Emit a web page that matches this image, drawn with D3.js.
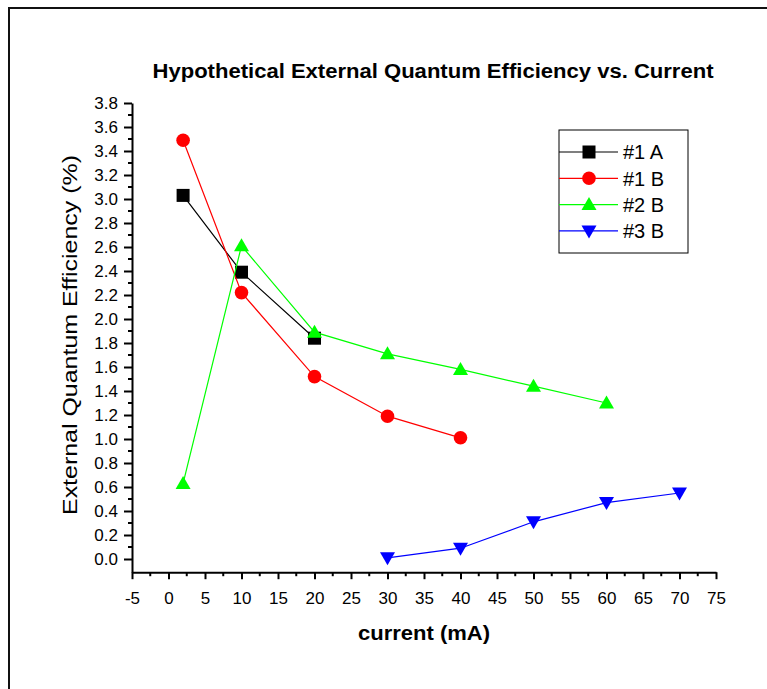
<!DOCTYPE html>
<html>
<head>
<meta charset="utf-8">
<script src="https://cdn.jsdelivr.net/npm/d3@7"></script>
<style>
  html, body { margin: 0; padding: 0; background: #fff; }
  svg { display: block; }
  text { font-family: "Liberation Sans", Arial, sans-serif; fill: #000; }
</style>
</head>
<body>
<svg id="chart" width="767" height="689"></svg>
<script>
// Efficiency measurements (%) at each drive current (mA)
const current1A = [2, 10, 20];
const eqe1A     = [3.03, 2.39, 1.84];
const current1B = [2, 10, 20, 30, 40];
const eqe1B     = [3.49, 2.22, 1.52, 1.19, 1.01];
const current2B = [2, 10, 20, 30, 40, 50, 60];
const eqe2B     = [0.63, 2.61, 1.89, 1.71, 1.58, 1.44, 1.30];
const current3B = [30, 40, 50, 60, 70];
const eqe3B     = [0.01, 0.09, 0.31, 0.47, 0.55];

const seriesNames = ["#1 A", "#1 B", "#2 B", "#3 B"];
const xTicks = d3.range(-5, 76, 5);
const yTicks = d3.range(0, 19 + 1).map(i => i * 0.2);

const series = [
  { name: seriesNames[0], xs: current1A, ys: eqe1A, color: "#000000", symbol: "square" },
  { name: seriesNames[1], xs: current1B, ys: eqe1B, color: "#ff0000", symbol: "circle" },
  { name: seriesNames[2], xs: current2B, ys: eqe2B, color: "#00ff00", symbol: "up" },
  { name: seriesNames[3], xs: current3B, ys: eqe3B, color: "#0000ff", symbol: "down" }
];

const svg = d3.select("#chart");

// outer frame
svg.append("rect")
  .attr("x", 9).attr("y", 8).attr("width", 800).attr("height", 720)
  .attr("fill", "none").attr("stroke", "#111").attr("stroke-width", 2);

const x = d3.scaleLinear().domain([-5, 75]).range([132, 716]);
const y = d3.scaleLinear().domain([-0.11, 3.8]).range([572.2, 103]);

// x axis (plain hyphen for negatives)
const xAxis = svg.append("g").attr("transform", `translate(0,${y.range()[0]})`)
  .call(d3.axisBottom(x).tickValues(xTicks).tickSize(7).tickSizeOuter(0).tickPadding(4)
    .tickFormat(d => String(d)));
xAxis.selectAll("text").attr("font-size", 17).attr("dy", "1.2em");
svg.append("g").attr("transform", `translate(0,${y.range()[0]})`)
  .selectAll("line").data(d3.range(-2.5, 75, 5)).join("line")
  .attr("x1", d => x(d)).attr("x2", d => x(d)).attr("y1", 0).attr("y2", 4)
  .attr("stroke", "#000").attr("stroke-width", 2);

// y axis
const yAxis = svg.append("g").attr("transform", `translate(${x.range()[0]},0)`)
  .call(d3.axisLeft(y).tickValues(yTicks).tickSize(8).tickSizeOuter(0).tickPadding(6)
    .tickFormat(d3.format(".1f")));
yAxis.selectAll("text").attr("font-size", 17);
svg.append("g").attr("transform", `translate(${x.range()[0]},0)`)
  .selectAll("line").data(d3.range(0, 19).map(i => i * 0.2 + 0.1)).join("line")
  .attr("x1", 0).attr("x2", -4).attr("y1", d => y(d)).attr("y2", d => y(d))
  .attr("stroke", "#000").attr("stroke-width", 2);

svg.selectAll(".domain, .tick line").attr("stroke", "#000").attr("stroke-width", 2);

// titles
svg.append("text").attr("x", 433).attr("y", 78).attr("text-anchor", "middle")
  .attr("font-size", 20).attr("font-weight", "bold")
  .attr("textLength", 561).attr("lengthAdjust", "spacingAndGlyphs")
  .text("Hypothetical External Quantum Efficiency vs. Current");

svg.append("text").attr("x", 424).attr("y", 640).attr("text-anchor", "middle")
  .attr("font-size", 21).attr("font-weight", "bold")
  .attr("textLength", 132).attr("lengthAdjust", "spacingAndGlyphs")
  .text("current (mA)");

svg.append("text").attr("transform", "translate(77,335) rotate(-90)")
  .attr("text-anchor", "middle").attr("font-size", 20)
  .attr("textLength", 360).attr("lengthAdjust", "spacingAndGlyphs")
  .text("External Quantum Efficiency (%)");

// markers
function drawMarker(g, symbol, color) {
  if (symbol === "square") {
    g.append("rect").attr("x", -6.5).attr("y", -6.5).attr("width", 13).attr("height", 13).attr("fill", color);
  } else if (symbol === "circle") {
    g.append("circle").attr("r", 6.8).attr("fill", color);
  } else if (symbol === "up") {
    g.append("path").attr("d", "M0,-7.5L7.5,5.5L-7.5,5.5Z").attr("fill", color);
  } else {
    g.append("path").attr("d", "M0,7.5L7.5,-5.5L-7.5,-5.5Z").attr("fill", color);
  }
}

const line = d3.line().x(d => x(d[0])).y(d => y(d[1]));
const plot = svg.append("g");
series.forEach(s => {
  const pts = s.xs.map((v, i) => [v, s.ys[i]]);
  plot.append("path").datum(pts).attr("d", line)
    .attr("fill", "none").attr("stroke", s.color).attr("stroke-width", 1.2);
  pts.forEach(p => {
    const g = plot.append("g").attr("transform", `translate(${x(p[0])},${y(p[1])})`);
    drawMarker(g, s.symbol, s.color);
  });
});

// legend
const legend = svg.append("g").attr("transform", "translate(559,130)");
legend.append("rect").attr("width", 129).attr("height", 123)
  .attr("fill", "#fff").attr("stroke", "#000").attr("stroke-width", 1);
series.forEach((s, i) => {
  const ly = 22 + i * 26.3;
  legend.append("line").attr("x1", 0).attr("x2", 59).attr("y1", ly).attr("y2", ly)
    .attr("stroke", s.color).attr("stroke-width", 1.2);
  const g = legend.append("g").attr("transform", `translate(30,${ly})`);
  drawMarker(g, s.symbol, s.color);
  legend.append("text").attr("x", 64).attr("y", ly).attr("dy", "0.36em")
    .attr("font-size", 20).text(s.name);
});
</script>
</body>
</html>
